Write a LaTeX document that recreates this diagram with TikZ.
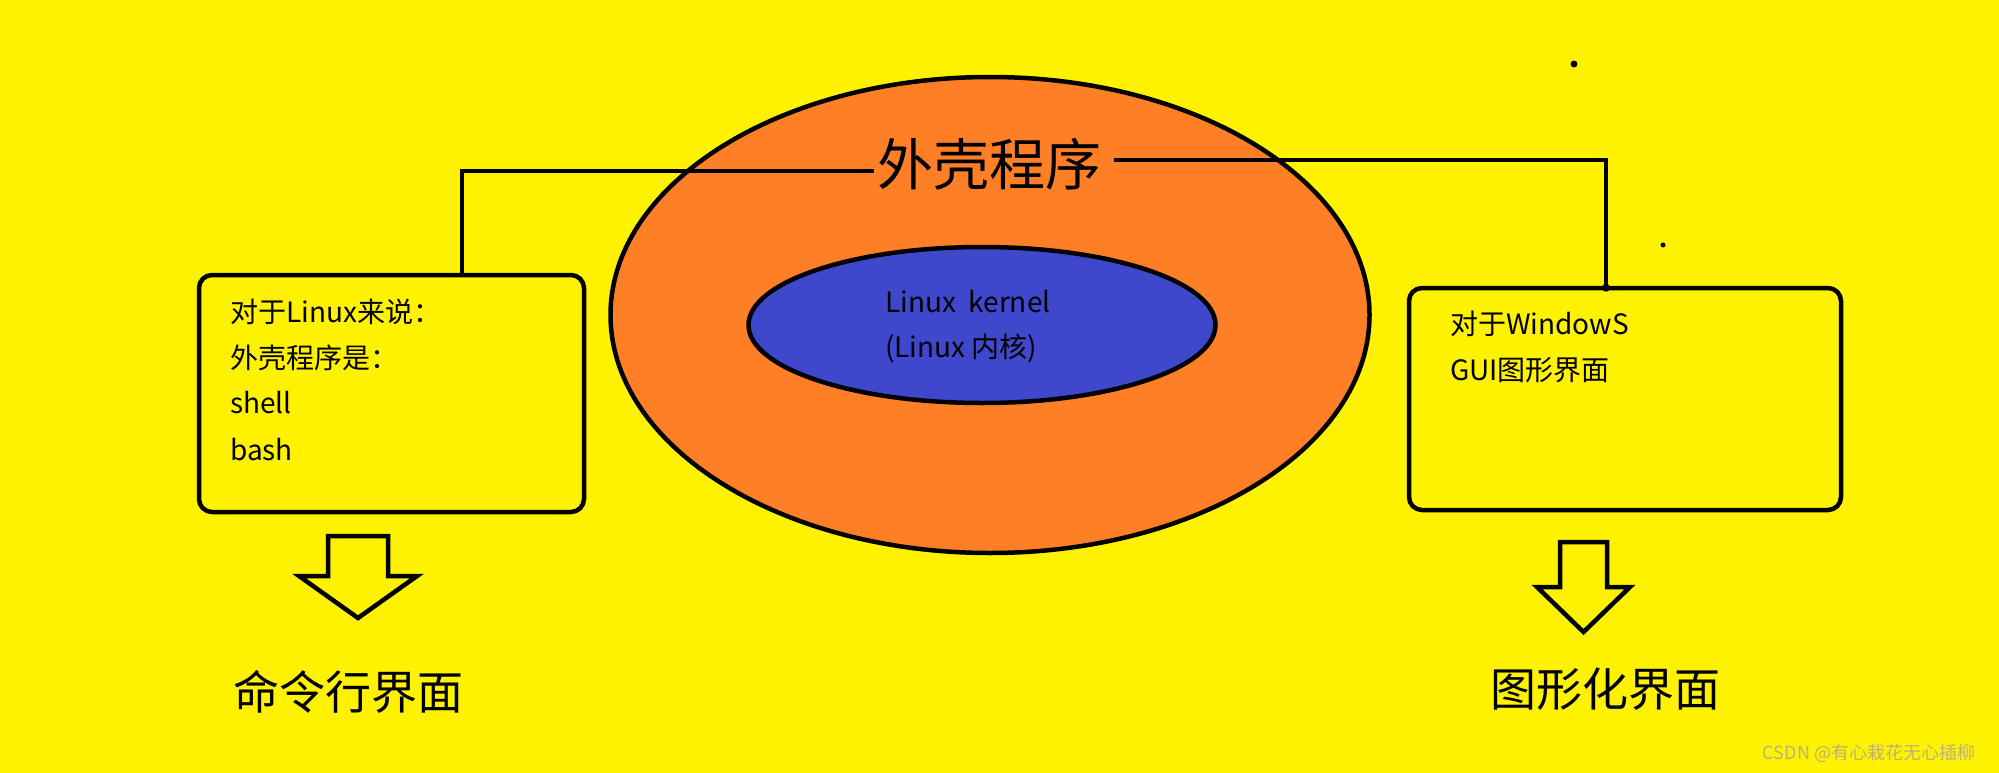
\documentclass[tikz,border=0pt]{standalone}
\usepackage{fontspec}
\setmainfont{Noto Sans CJK SC}
\usepackage{tikz}
\usetikzlibrary{positioning, calc, shapes.geometric}
\definecolor{paintyellow}{RGB}{255,242,0}
\definecolor{paintorange}{RGB}{255,127,39}
\definecolor{paintblue}{RGB}{63,72,204}
\definecolor{markgray}{RGB}{185,178,120}
\tikzset{
    conn/.style={black, line width=4.5pt},
    infobox/.style={draw=black, line width=4.5pt, fill=paintyellow, rounded corners=13pt, inner sep=0pt},
    boxtext/.style={anchor=west, inner sep=0pt, font=\fontsize{28}{30}\selectfont},
    biglabel/.style={inner sep=0pt, font=\fontsize{46}{48}\selectfont}
}
\begin{document}
\begin{tikzpicture}[x=1pt, y=-1pt]
    % background
    \useasboundingbox (0,0) rectangle (1999,773);
    \fill[paintyellow] (0,0) rectangle (1999,773);

    % shell and kernel
    \node[draw=black, line width=4.5pt, fill=paintorange, ellipse, minimum width=759pt, minimum height=476pt, inner sep=0pt] (shell) at (990,315) {};
    \node[draw=black, line width=4.5pt, fill=paintblue, ellipse, minimum width=467pt, minimum height=156pt, inner sep=0pt] (kernel) at (982,325) {};
    \node[boxtext] (k1) at (885,302) {Linux\ \ kernel};
    \node[boxtext] (k2) at (885,348) {(Linux 内核)};
    \node[anchor=west, inner sep=0pt, font=\fontsize{56}{58}\selectfont] (title) at (877,164) {外壳程序};

    % boxes
    \node[infobox, minimum width=385pt, minimum height=237pt] (lbox) at (391.5,393.5) {};
    \node[infobox, minimum width=432pt, minimum height=222pt] (rbox) at (1625,399) {};

    \foreach \i/\y/\txt in {1/312/对于Linux来说：, 2/358/外壳程序是：, 3/403/shell, 4/450/bash}
    {
        \node[boxtext] (lt\i) at (230,\y) {\txt};
    }
    \foreach \i/\y/\txt in {1/324/对于WindowS, 2/370/GUI图形界面}
    {
        \node[boxtext] (rt\i) at (1450,\y) {\txt};
    }

    % connectors
    \coordinate (lcorner) at (462,171);
    \coordinate (rcorner) at (1606,160);
    \draw[conn] ([xshift=-3pt]title.west |- lcorner) -- (lcorner) -- (lcorner |- lbox.north);
    \draw[conn] ([xshift=13pt]title.east |- rcorner) -- (rcorner) -- (rcorner |- rbox.north);
    \fill[black] ([yshift=-2pt]rcorner |- rbox.north) circle (4pt);

    % hollow arrows
    \foreach \cx/\top/\sh/\tip/\bw/\hw in {358/536/576/618/30/59, 1583.5/542/587/632/23.5/46.5}
    {
        \draw[black, line width=4.5pt, line join=miter, fill=paintyellow]
            (\cx-\bw,\top) -- (\cx+\bw,\top) -- (\cx+\bw,\sh) -- (\cx+\hw,\sh)
            -- (\cx,\tip) -- (\cx-\hw,\sh) -- (\cx-\bw,\sh) -- cycle;
    }
    \node[biglabel] (cli) at (348.5,692) {命令行界面};
    \node[biglabel] (gui) at (1605.5,689) {图形化界面};

    % stray dots
    \fill[black] (1574,64) circle (3.5pt);
    \fill[black] (1663,245) circle (2.5pt);

    \node[inner sep=0pt, text=markgray, font=\fontsize{18}{19}\selectfont] (mark) at (1869,753) {CSDN @有心栽花无心插柳};
\end{tikzpicture}
\end{document}
